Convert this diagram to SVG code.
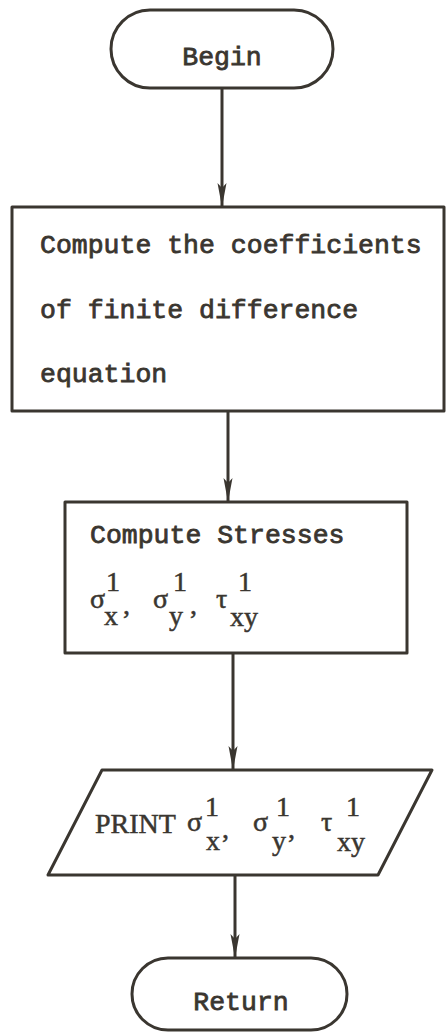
<svg xmlns="http://www.w3.org/2000/svg" width="446" height="1034" viewBox="0 0 446 1034">
<style>
.shape{fill:none;stroke:#3a3630;stroke-width:3;stroke-linejoin:round}
.conn{stroke:#3a3630;stroke-width:3;fill:none}
.tw{font-family:"Liberation Mono","DejaVu Sans Mono",monospace;font-size:26.5px;fill:#3a3630;stroke:#3a3630;stroke-width:0.8}
.m{font-family:"Liberation Serif","DejaVu Serif",serif;font-size:28px;fill:#3a3630;stroke:#3a3630;stroke-width:0.5}
</style>
<defs>
<marker id="ah" markerUnits="userSpaceOnUse" markerWidth="26" markerHeight="12" refX="24" refY="5" orient="auto">
<path d="M0,0.5 L24,5 L0,9.5 L5,5 Z" fill="#3a3630"/>
</marker>
</defs>
<rect width="446" height="1034" fill="#ffffff"/>
<g id="connectors">
<line class="conn" x1="222" y1="88" x2="222" y2="207" marker-end="url(#ah)"/>
<line class="conn" x1="228" y1="411" x2="228" y2="502" marker-end="url(#ah)"/>
<line class="conn" x1="233" y1="653" x2="233" y2="770" marker-end="url(#ah)"/>
<line class="conn" x1="235" y1="875" x2="235" y2="958" marker-end="url(#ah)"/>
</g>
<g id="begin">
<rect class="shape" x="111" y="10" width="222" height="78" rx="39"/>
<text class="tw" x="222" y="65" text-anchor="middle">Begin</text>
</g>
<g id="coefficients">
<rect class="shape" x="12" y="207" width="432" height="204"/>
<text class="tw" x="40" y="253">Compute the coefficients</text>
<text class="tw" x="40" y="318">of finite difference</text>
<text class="tw" x="40" y="382">equation</text>
</g>
<g id="stresses">
<rect class="shape" x="65" y="502" width="342" height="151"/>
<text class="tw" x="90" y="543">Compute Stresses</text>
<text class="m" x="90" y="608">σ</text>
<text class="m" x="106" y="591">1</text>
<text class="m" x="104" y="625">x</text>
<text class="m" x="123" y="614">,</text>
<text class="m" x="153" y="608">σ</text>
<text class="m" x="173" y="591">1</text>
<text class="m" x="169" y="625">y</text>
<text class="m" x="190" y="614">,</text>
<text class="m" x="216" y="608">τ</text>
<text class="m" x="238" y="591">1</text>
<text class="m" x="230" y="626">xy</text>
</g>
<g id="print">
<polygon class="shape" points="102,770 432,770 378,875 48,875"/>
<text class="m" x="95" y="833" font-size="27">PRINT</text>
<text class="m" x="187" y="831">σ</text>
<text class="m" x="205" y="816">1</text>
<text class="m" x="206" y="850">x</text>
<text class="m" x="222" y="838">,</text>
<text class="m" x="253" y="831">σ</text>
<text class="m" x="276" y="816">1</text>
<text class="m" x="272" y="850">y</text>
<text class="m" x="288" y="838">,</text>
<text class="m" x="321" y="831">τ</text>
<text class="m" x="346" y="816">1</text>
<text class="m" x="337" y="851">xy</text>
</g>
<g id="return">
<rect class="shape" x="132" y="958" width="215" height="72" rx="36"/>
<text class="tw" x="241" y="1010" text-anchor="middle">Return</text>
</g>
</svg>
